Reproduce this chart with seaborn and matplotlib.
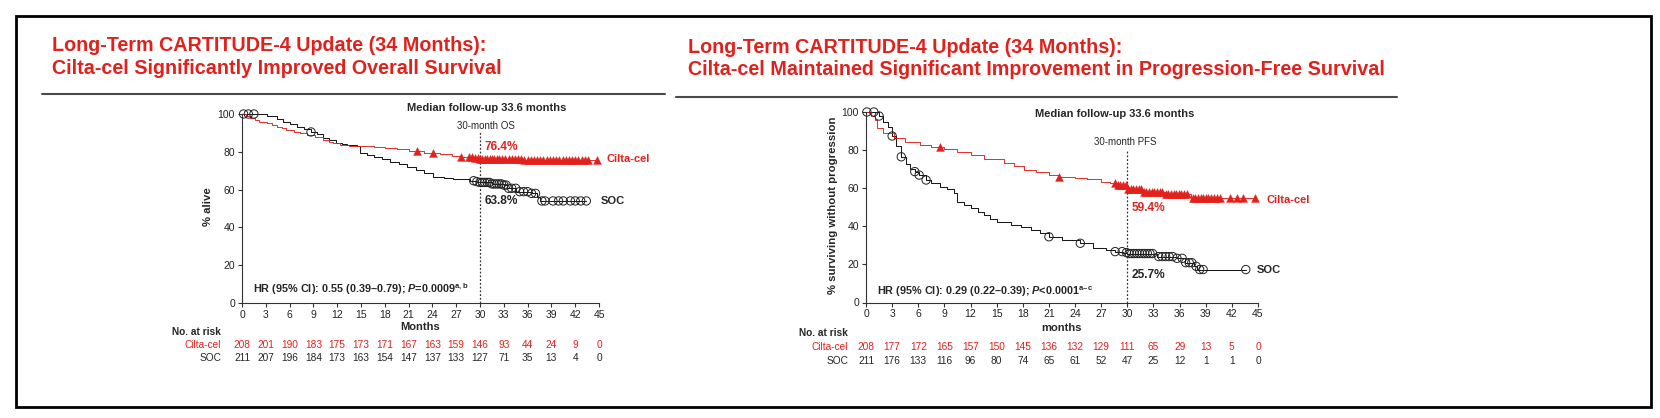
import numpy as np
import pandas as pd
import matplotlib
matplotlib.use("Agg")
import matplotlib.pyplot as plt
import seaborn as sns
from matplotlib.patches import Rectangle
from matplotlib.lines import Line2D
import matplotlib.transforms as mtransforms

RED = "#e2211c"

# ---- data ----
risk_months = [0, 3, 6, 9, 12, 15, 18, 21, 24, 27, 30, 33, 36, 39, 42, 45]

# Overall survival
os_cilta_t = [0, 0.5, 1.0, 1.6, 2.2, 3.1, 3.8, 4.4, 5.0, 5.6, 6.5, 7.3, 8.2, 9.2, 10.2, 11.0,
              11.5, 12.4, 13.5, 15.0, 16.6, 18.0, 19.5, 21.0, 23.0, 25.0, 26.5, 27.5, 28.5,
              29.2, 30.0, 33.0, 35.5, 38.0]
os_cilta_s = [100, 99.0, 97.7, 97.0, 96.0, 95.1, 94.2, 93.3, 92.4, 91.5, 90.5, 89.7, 88.9, 87.8,
              86.2, 85.3, 84.5, 83.6, 83.2, 83.0, 82.5, 81.8, 81.3, 80.4, 79.6, 78.8, 78.0, 77.4,
              77.0, 76.8, 76.4, 76.0, 75.8, 75.6]
os_cilta_cens = [22.0, 24.1, 27.6, 28.6, 29.0, 29.4, 29.7, 30.0, 30.3, 30.6, 30.9, 31.2, 31.5,
                 31.8, 32.1, 32.4, 32.8, 33.2, 33.6, 34.0, 34.4, 34.8, 35.2, 35.6, 36.0, 36.4,
                 36.8, 37.2, 37.6, 38.0, 38.4, 38.8, 39.2, 39.6, 40.0, 40.4, 40.8, 41.2, 41.6,
                 42.0, 42.4, 42.8, 43.2, 43.6, 44.7]

os_soc_t = [0, 3.1, 4.4, 5.2, 6.0, 6.9, 7.8, 8.7, 9.5, 10.2, 11.0, 11.9, 12.6, 13.2, 14.5, 14.9,
            15.8, 16.6, 17.6, 18.7, 19.8, 20.8, 21.9, 22.9, 24.1, 25.5, 26.6, 28.7, 29.5, 30.0,
            31.5, 33.0, 33.4, 34.6, 36.5, 37.2, 37.6]
os_soc_s = [100, 99.0, 97.5, 95.9, 94.8, 93.3, 92.0, 90.5, 89.2, 87.1, 86.0, 84.5, 84.0, 83.6,
            83.0, 79.2, 78.4, 77.4, 76.2, 74.8, 73.5, 72.1, 70.3, 68.6, 66.5, 66.0, 65.4, 64.7,
            64.2, 63.8, 63.0, 62.4, 60.7, 58.9, 58.0, 56.0, 54.0]
os_soc_cens = [0.2, 0.8, 1.5, 8.7, 29.2, 29.6, 30.0, 30.3, 30.6, 30.9, 31.2, 31.5, 31.8, 32.1,
               32.4, 32.7, 33.0, 33.3, 33.6, 34.0, 34.5, 35.0, 35.5, 36.0, 36.5, 37.0, 37.8,
               38.2, 39.2, 39.9, 40.5, 41.4, 42.0, 42.7, 43.4]

os_risk_cilta = [208, 201, 190, 183, 175, 173, 171, 167, 163, 159, 146, 93, 44, 24, 9, 0]
os_risk_soc = [211, 207, 196, 184, 173, 163, 154, 147, 137, 133, 127, 71, 35, 13, 4, 0]

# Progression-free survival
pfs_cilta_t = [0, 0.6, 1.0, 1.3, 2.0, 3.2, 4.5, 6.2, 7.5, 9.0, 10.5, 12.0, 13.5, 15.8, 17.0,
               18.1, 19.5, 21.0, 22.2, 24.0, 25.4, 27.0, 28.0, 28.8, 30.0, 31.8, 34.4, 37.3]
pfs_cilta_s = [100, 98.0, 96.0, 91.4, 88.8, 86.2, 84.3, 82.7, 81.5, 80.4, 79.2, 77.4, 75.5,
               73.1, 71.5, 69.6, 68.5, 67.0, 66.0, 65.5, 64.7, 63.5, 62.5, 61.7, 59.4, 58.0,
               57.0, 54.8]
pfs_cilta_cens = [8.5, 22.2, 28.6, 28.9, 29.2, 29.5, 29.8, 30.1, 30.4, 30.7, 31.0, 31.3, 31.6,
                  31.9, 32.2, 32.5, 32.8, 33.1, 33.4, 33.7, 34.0, 34.4, 34.7, 35.0, 35.3, 35.6,
                  35.9, 36.2, 36.5, 36.8, 37.5, 37.8, 38.1, 38.4, 38.7, 39.0, 39.3, 39.6, 39.9,
                  40.3, 40.6, 41.8, 42.6, 43.3, 44.6]

pfs_soc_t = [0, 1.5, 2.0, 2.5, 3.0, 3.5, 4.05, 4.6, 5.1, 5.6, 6.1, 6.9, 7.5, 8.5, 9.3, 10.1,
             10.4, 11.2, 12.0, 12.8, 13.5, 14.2, 15.0, 16.6, 17.8, 18.9, 20.0, 21.0, 22.5,
             24.6, 26.1, 27.5, 28.6, 29.5, 30.0, 33.4, 35.7, 36.6, 37.6, 38.0]
pfs_soc_s = [100, 97.9, 95.0, 92.0, 87.4, 82.0, 76.5, 72.5, 70.0, 68.7, 66.9, 64.3, 62.5, 60.8,
             59.5, 57.3, 52.9, 51.0, 49.4, 47.5, 45.9, 44.0, 42.4, 40.7, 39.5, 38.1, 36.5, 34.5,
             33.0, 31.1, 28.4, 27.5, 26.7, 26.2, 25.7, 24.1, 23.2, 20.9, 19.0, 17.3]
pfs_soc_cens = [0.1, 0.9, 1.5, 3.0, 4.05, 5.6, 6.1, 6.9, 21.0, 24.6, 28.6, 29.4, 29.9, 30.2,
                30.5, 30.8, 31.1, 31.4, 31.7, 32.0, 32.3, 32.6, 32.9, 33.6, 34.0, 34.4, 34.8,
                35.2, 35.7, 36.3, 36.7, 37.1, 37.4, 37.9, 38.3, 38.7, 43.6]

pfs_risk_cilta = [208, 177, 172, 165, 157, 150, 145, 136, 132, 129, 111, 65, 29, 13, 5, 0]
pfs_risk_soc = [211, 176, 133, 116, 96, 80, 74, 65, 61, 52, 47, 25, 12, 1, 1, 0]

# ---- style ----
sns.set_style("ticks")
plt.rcParams["font.family"] = ["Liberation Sans", "DejaVu Sans"]
plt.rcParams["mathtext.fontset"] = "custom"
plt.rcParams["mathtext.rm"] = "Liberation Sans:bold"
plt.rcParams["mathtext.it"] = "Liberation Sans:italic:bold"
plt.rcParams["mathtext.bf"] = "Liberation Sans:bold"

W, H = 1660, 418
fig = plt.figure(figsize=(W / 100, H / 100), dpi=100)


def fx(x):
    return x / W


def fy(y):
    return 1 - y / H


def km_frames(times, surv, cens):
    end = max(max(cens), times[-1])
    line = pd.DataFrame({"month": list(times) + [end], "pct": list(surv) + [surv[-1]]})
    idx = np.searchsorted(times, cens, side="right") - 1
    marks = pd.DataFrame({"month": cens, "pct": np.asarray(surv)[idx]})
    return line, marks


def draw_panel(rect, cilta, soc, risk_c, risk_s, ylab, xlab, lab_x, ylab_x, rows, xlabel_y, hr,
               notes):
    ax = fig.add_axes(rect)
    for (t, s, c), col, mk in [(soc, "#1a1a1a", "o"), (cilta, RED, "^")]:
        line, marks = km_frames(t, s, c)
        sns.lineplot(data=line, x="month", y="pct", ax=ax, color=col,
                     lw=0.75 if mk == "o" else 0.65,
                     drawstyle="steps-post", estimator=None, sort=False)
        if mk == "o":
            sns.scatterplot(data=marks, x="month", y="pct", ax=ax, marker="o", s=36,
                            facecolor="none", edgecolor="#222222", linewidth=0.7,
                            clip_on=False, zorder=3)
        else:
            sns.scatterplot(data=marks, x="month", y="pct", ax=ax, marker="^", s=32,
                            color=RED, edgecolor=RED, linewidth=0.3, clip_on=False, zorder=3)
    ax.set_xlim(0, 45)
    ax.set_ylim(0, 100)
    ax.set_xticks(risk_months)
    ax.set_yticks([0, 20, 40, 60, 80, 100])
    ax.set_xlabel("")
    ax.set_ylabel("")
    sns.despine(ax=ax)
    for sp in ["left", "bottom"]:
        ax.spines[sp].set_linewidth(0.8)
        ax.spines[sp].set_color("#333333")
    ax.tick_params(length=3, width=0.8, labelsize=7.5, pad=2, colors="#333333",
                   labelcolor="#222222")

    # 30-month reference line
    ax.vlines(30, 0, notes["vtop"], color="#333333", lw=0.9, linestyles=(0, (1.5, 1.5)),
              clip_on=False)

    ax.text(ylab_x[0], ylab_x[1], ylab, transform=ax.transAxes, rotation=90, ha="center",
            va="center", fontsize=8.2, fontweight="bold")
    ax.text(0.5, xlabel_y, xlab, transform=ax.transAxes, ha="center", va="center",
            fontsize=8, fontweight="bold")

    tr = mtransforms.blended_transform_factory(ax.transData, ax.transAxes)
    ax.text(lab_x, rows[0], "No. at risk", transform=tr, ha="right", va="center",
            fontsize=7.3, fontweight="bold")
    ax.text(lab_x, rows[1], "Cilta-cel", transform=tr, ha="right", va="center",
            fontsize=7.3, color=RED)
    ax.text(lab_x, rows[2], "SOC", transform=tr, ha="right", va="center", fontsize=7.3)
    for m, nc, ns in zip(risk_months, risk_c, risk_s):
        ax.text(m, rows[1], str(nc), transform=tr, ha="center", va="center", fontsize=7.3,
                color=RED)
        ax.text(m, rows[2], str(ns), transform=tr, ha="center", va="center", fontsize=7.3)

    ax.text(*notes["median"], "Median follow-up 33.6 months", ha="center", va="center",
            fontsize=8, fontweight="bold", clip_on=False)
    ax.text(*notes["ref"][:2], notes["ref"][2], ha="center", va="center", fontsize=7,
            clip_on=False)
    ax.text(*notes["c_pct"][:2], notes["c_pct"][2], ha="left", va="center", fontsize=8.6,
            fontweight="bold", color=RED, clip_on=False)
    ax.text(*notes["s_pct"][:2], notes["s_pct"][2], ha="left", va="center", fontsize=8.6,
            fontweight="bold", clip_on=False)
    ax.text(*notes["c_lab"], "Cilta-cel", ha="left", va="center", fontsize=8,
            fontweight="bold", color=RED, clip_on=False)
    ax.text(*notes["s_lab"], "SOC", ha="left", va="center", fontsize=8, fontweight="bold",
            clip_on=False)
    ax.text(*notes["hr"], hr, ha="left", va="center", fontsize=7.8, fontweight="bold",
            clip_on=False)
    return ax


draw_panel([fx(242), fy(303), fx(357), 189 / H],
           (os_cilta_t, os_cilta_s, os_cilta_cens), (os_soc_t, os_soc_s, os_soc_cens),
           os_risk_cilta, os_risk_soc, "% alive", "Months", -2.65, (-0.095, 0.508),
           (-0.153, -0.222, -0.291), -0.127,
           "HR (95% CI): 0.55 (0.39\u20130.79); $P$=0.0009$^{\\mathrm{a,b}}$",
           {"vtop": 90.5, "median": (30.8, 103.2), "ref": (30.8, 93.7, "30-month OS"),
            "c_pct": (30.6, 82.5, "76.4%"), "s_pct": (30.6, 54.0, "63.8%"),
            "c_lab": (45.9, 76.2), "s_lab": (45.2, 54.0), "hr": (1.4, 7.4)})

draw_panel([fx(866), fy(302.5), fx(392), 190.5 / H],
           (pfs_cilta_t, pfs_cilta_s, pfs_cilta_cens), (pfs_soc_t, pfs_soc_s, pfs_soc_cens),
           pfs_risk_cilta, pfs_risk_soc, "% surviving without progression", "months", -2.07,
           (-0.084, 0.512), (-0.160, -0.234, -0.307), -0.134,
           "HR (95% CI): 0.29 (0.22\u20130.39); $P$<0.0001$^{\\mathrm{a\u2013c}}$",
           {"vtop": 80.0, "median": (28.5, 99.0), "ref": (29.8, 84.3, "30-month PFS"),
            "c_pct": (30.5, 49.6, "59.4%"), "s_pct": (30.5, 14.4, "25.7%"),
            "c_lab": (46.0, 53.8), "s_lab": (44.9, 17.1), "hr": (1.3, 5.5)})

# ---- titles, rules and frame ----
titles = [
    (52, [51, 74], ["Long-Term CARTITUDE-4 Update (34 Months):",
                    "Cilta-cel Significantly Improved Overall Survival"]),
    (688, [53, 75], ["Long-Term CARTITUDE-4 Update (34 Months):",
                     "Cilta-cel Maintained Significant Improvement in Progression-Free Survival"]),
]
for x0, ys, lines in titles:
    for yb, txt in zip(ys, lines):
        fig.text(fx(x0), fy(yb), txt, ha="left", va="baseline", fontsize=14.2,
                 fontweight="bold", color=RED)

fig.add_artist(Line2D([fx(42), fx(665)], [fy(94), fy(94)], color="#4a4a4a", lw=1.5))
fig.add_artist(Line2D([fx(676), fx(1397)], [fy(97), fy(97)], color="#4a4a4a", lw=1.5))
fig.add_artist(Rectangle((fx(16), fy(407)), fx(1651 - 16), (407 - 16) / H, fill=False,
                         edgecolor="black", lw=2.0, transform=fig.transFigure))

fig.savefig("out.png", dpi=100, facecolor="white")
